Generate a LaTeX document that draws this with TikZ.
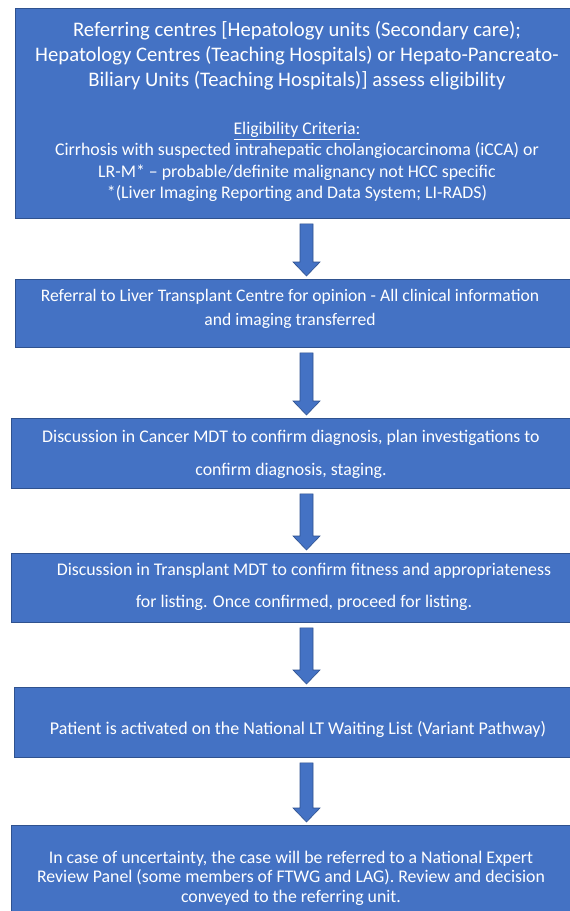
\documentclass[tikz,border=0pt]{standalone}
\usepackage{fontspec}
\setmainfont{Carlito}
\usetikzlibrary{calc}
\definecolor{boxfill}{HTML}{4472C4}
\definecolor{boxline}{HTML}{2F528F}
\tikzset{
  box/.style={draw=boxline, line width=0.8pt, fill=boxfill, anchor=north west, inner sep=0pt, minimum width=600pt},
  txt/.style={text=white, align=center, inner sep=0pt, font=#1},
  flow/.style={draw=boxline, line width=0.6pt, fill=boxfill}
}
\newcommand{\fs}[2]{\fontsize{#1}{#2}\selectfont}
\newcommand{\flowarrow}[2]{%
  \path[flow] let \p1=(#1.south), \p2=(#2.north) in
    (300pt,\y1-5pt) -- (313pt,\y1-5pt) -- (313pt,\y2+17pt) -- (320pt,\y2+17pt) -- (306.5pt,\y2+3pt)
    -- (293pt,\y2+17pt) -- (300pt,\y2+17pt) -- cycle;}
\begin{document}
\begin{tikzpicture}[x=1pt,y=-1pt]
\clip (0,0) rectangle (570,911);
\useasboundingbox (0,0) rectangle (570,911);
\fill[white] (0,0) rectangle (570,911);
% boxes
\node[box, minimum height=210pt] (b1) at (14.5,8) {};
\node[box, minimum height=68pt] (b2) at (15,279) {};
\node[box, minimum height=70pt] (b3) at (11,418) {};
\node[box, minimum height=69pt] (b4) at (11,553) {};
\node[box, minimum height=70pt] (b5) at (14,687) {};
\node[box, minimum height=110pt] (b6) at (11,825) {};
% texts
\node[txt={\fs{20.7}{25}}] (t1a) at (297,56) {Referring centres [Hepatology units (Secondary care);\\Hepatology Centres (Teaching Hospitals) or Hepato-Pancreato-\\Biliary Units (Teaching Hospitals)] assess eligibility};
\node[txt={\fs{17.8}{21.5}}] (t1b) at (297,162) {\underline{Eligibility Criteria:}\\Cirrhosis with suspected intrahepatic cholangiocarcinoma (iCCA) or\\LR-M* -- probable/definite malignancy not HCC specific\\*(Liver Imaging Reporting and Data System; LI-RADS)};
\node[txt={\fs{17.6}{24}}] (t2) at (290,308.5) {Referral to Liver Transplant Centre for opinion - All clinical information\\and imaging transferred};
\node[txt={\fs{17.8}{33}}] (t3) at (291,454.5) {Discussion in Cancer MDT to confirm diagnosis, plan investigations to\\confirm diagnosis, staging.};
\node[txt={\fs{17.8}{32}}] (t4) at (304,587) {Discussion in Transplant MDT to confirm fitness and appropriateness\\for listing. Once confirmed, proceed for listing.};
\node[txt={\fs{18}{21}}] (t5) at (298,729) {Patient is activated on the National LT Waiting List (Variant Pathway)};
\node[txt={\fs{17.8}{19.5}}] (t6) at (291,878) {In case of uncertainty, the case will be referred to a National Expert\\Review Panel (some members of FTWG and LAG). Review and decision\\conveyed to the referring unit.};
% arrows
\flowarrow{b1}{b2}
\flowarrow{b2}{b3}
\flowarrow{b3}{b4}
\flowarrow{b4}{b5}
\flowarrow{b5}{b6}
\end{tikzpicture}
\end{document}
